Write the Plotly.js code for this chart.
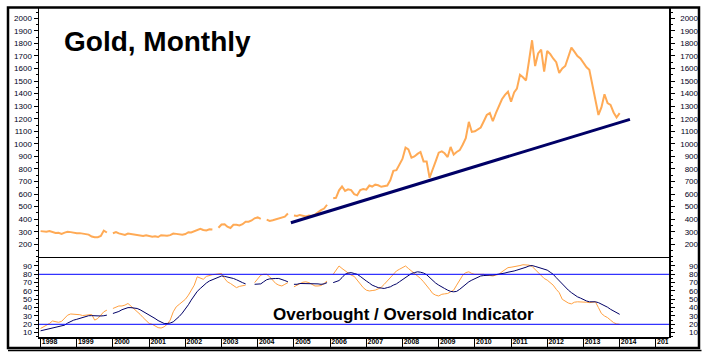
<!DOCTYPE html>
<html><head><meta charset="utf-8">
<script src="https://cdn.plot.ly/plotly-3.0.1.min.js"></script>
<style>html,body{margin:0;padding:0;background:#fff;}#chart{width:711px;height:358px;}</style>
</head><body><div id="chart"></div>
<script>
// Monthly gold price (USD/oz), Jan 1998 .. Jan 2014 (null = gap in the drawn line)
const goldPrice = [
  305, 303, 300, 306, 298, 290, 291, 283, 293, 300, 297, 292,      // 1998
  288, 289, 286, 283, 277, 262, 256, 257, 266, 309, 294, null,     // 1999
  288, 298, 287, 280, 274, 286, 283, 275, 274, 271, 267, 272,      // 2000
  266, 261, 264, 258, 272, 271, 268, 273, 286, 283, 277, 276,      // 2001
  282, 296, 294, 302, 314, 324, 314, 310, 319, 317, null, 332,     // 2002
  358, 359, 340, 330, 355, 356, 350, 360, 380, 380, 390, 407,      // 2003
  414, 402, null, 396, 386, 392, 398, 402, 408, 420, 445, null,    // 2004
  430, 426, 434, 429, 422, 430, 426, 437, 458, 472, 485, 515,      // 2005
  null, 566, 570, 630, 660, 625, 638, 632, 600, 590, 632, 640,     // 2006
  635, 668, 660, 675, 670, 658, 665, 668, 712, 785, 790, 830,      // 2007
  880, 970, 955, 890, 900, 920, 935, 860, 860, 730, 805, 860,      // 2008
  930, 940, 925, 895, 975, 915, 935, 950, 995, 1045, 1175, 1095,   // 2009
  1100, 1115, 1130, 1180, 1230, 1245, 1180, 1245, 1305, 1355, 1390, 1415, // 2010
  1335, 1410, 1440, 1550, 1530, 1505, 1660, 1825, 1620, 1720, 1750, 1575, // 2011
  1740, 1715, 1680, 1650, 1565, 1600, 1620, 1700, 1766, 1735, 1700, 1680, // 2012
  1640, 1610, 1590, 1475, 1360, 1230, 1290, 1395, 1325, 1310, 1250, 1210, // 2013
  1245                                                               // 2014
];
// Overbought / oversold indicator, fast (orange) line
const oscFast = [
  15, 17, 19.5, 21, 24, 23.5, 22.4, 23.5, 27, 31, 32.4, 32.4,
  32.4, 31.5, 30.5, 30.7, 31, 31.8, 25, 27, 31, 35, 37, null,
  39, 40.5, 42, 42, 43, 45, 42, 39, 35, 32, 28, 24,
  21, 20, 18.5, 16, 15.5, 17, 20, 25, 35, 41, 44, 46.5,
  50, 55, 61, 67, 77, 75, 74, 77.5, 79, 79.5, 80, 80.5,
  81, 75, 71, 69, 66, 64, 65.5, 66.5, 67, null, null, 70,
  74, 79, 80, 80, 77, 73, 69, 67, 66, 68, 70, null,
  65, 67, 69, 70.5, 71, 70, 68, 66, 66, 66.5, 69, 72,
  null, 80, 85, 90, 87, 84, 81, 79, 77.5, 73, 68, 64,
  61, 60, 60.5, 61, 62.5, 64.5, 68, 72, 76, 81, 84, 86,
  88, 90, 87, 84, 82, 79, 75, 71, 67, 62, 57, 55,
  54, 56, 56.5, 57, 59, 61, 67, 73, 79, 82, 83, 81,
  80, 80, 80, 80, 79, 78.5, 78, 79, 80, 83, 86, 88,
  88.5, 89, 90, 90.5, 91.5, 91.5, 91, 89.5, 86, 83, 79, 75,
  73, 70, 67, 62, 58, 50, 47.5, 45.5, 44.5, 46.5, 47, 47,
  47, 46.5, 46, 46.5, 47, 40, 33, 30, 28, 25, 22, 20.5,
  20
];
// Overbought / oversold indicator, slow (navy) line
const oscSlow = [
  12.2, 13, 13.8, 14.6, 15.5, 16.4, 17, 17.8, 19, 21.5, 23.5, 25,
  26, 27.2, 28.3, 29.3, 30.3, 30.4, 30.1, 30, 30, 30.3, 31, null,
  33, 34, 35.4, 37.5, 39, 40, 40, 39.5, 39, 37.5, 35.5, 33,
  31.5, 29, 27, 24.5, 22.5, 21, 21, 21.5, 23, 26, 29.5, 33.5,
  38, 43.5, 49, 55, 59.5, 63, 66.5, 69.5, 72, 73.5, 75, 76.5,
  78, 77.5, 77, 76, 75, 73.5, 71.5, 70, 68.5, null, null, 68,
  68, 68.5, 71, 73.5, 74.5, 75, 75, 75, 74, 72.5, 71, null,
  68, 68, 69, 69, 69, 69, 69, 69, 68.5, 68, 68.5, 70,
  null, 70, 71, 72.5, 76, 80, 81.5, 82, 81, 80, 77.5, 74.5,
  72, 69.5, 67, 65.5, 64, 63.5, 63, 64, 65, 67, 68.5, 71,
  73.5, 76, 79, 81, 82, 83, 82.5, 81.5, 79.5, 76, 72, 69.5,
  67, 64.5, 63, 61, 59.5, 59, 59.5, 62, 65, 68.5, 71, 73,
  75, 76.5, 78, 78.5, 79, 79, 79, 79.5, 80, 80.5, 81.5, 82.5,
  83, 84, 85, 86, 87, 88.5, 90, 90.5, 89.5, 88.5, 87, 86,
  85, 82.5, 80, 76, 72, 68.5, 64.5, 61, 58, 55, 53, 51.5,
  49.5, 48, 47, 47, 47, 46, 44.5, 43, 40.5, 38, 36, 34.5,
  32
];
// Support trend line (start / end)
const trendDates = ['2004-12-01', '2014-04-15'];
const trendValues = [372, 1195];
// Indicator reference levels
const overboughtLevel = 80;
const oversoldLevel = 20;
// Tick labels
const yearLabels = ['1998','1999','2000','2001','2002','2003','2004','2005','2006','2007','2008','2009','2010','2011','2012','2013','2014','2015'];
const priceTicks = [200,300,400,500,600,700,800,900,1000,1100,1200,1300,1400,1500,1600,1700,1800,1900,2000];
const oscTicks = [10,20,30,40,50,60,70,80,90];

const startYear = 1998;
const months = goldPrice.map((_, i) => {
  const y = startYear + Math.floor(i / 12), m = (i % 12) + 1;
  return y + '-' + String(m).padStart(2, '0') + '-01';
});
const yearTickDates = yearLabels.map(y => y + '-01-01');

const W = 711, H = 358, ML = 39, MR = 12, MT = 8, MB = 21;
const PW = W - ML - MR, PH = H - MT - MB;
const px = v => (v - ML) / PW;           // page px -> paper x
const py = v => (H - MB - v) / PH;       // page px -> paper y
const D = px(669);
const S = py(258.3);

const tickFont = {family: 'Liberation Sans, Arial, sans-serif', size: 8, color: '#000022'};
const axBase = {showgrid: false, zeroline: false, fixedrange: true};

const traces = [
  {x: months, y: goldPrice, type: 'scatter', mode: 'lines', xaxis: 'x', yaxis: 'y',
   line: {color: '#FFAA55', width: 2}, connectgaps: false, hoverinfo: 'skip'},
  {x: trendDates, y: trendValues, type: 'scatter', mode: 'lines', xaxis: 'x', yaxis: 'y',
   line: {color: '#000066', width: 3}, hoverinfo: 'skip'},
  {x: months, y: oscFast, type: 'scatter', mode: 'lines', xaxis: 'x', yaxis: 'y2',
   line: {color: '#FFA040', width: 1}, connectgaps: false, hoverinfo: 'skip'},
  {x: months, y: oscSlow, type: 'scatter', mode: 'lines', xaxis: 'x', yaxis: 'y2',
   line: {color: '#000066', width: 1}, connectgaps: false, hoverinfo: 'skip'},
  {x: [], y: [], type: 'scatter', xaxis: 'x', yaxis: 'y3', hoverinfo: 'skip'},
  {x: [], y: [], type: 'scatter', xaxis: 'x', yaxis: 'y4', hoverinfo: 'skip'}
];

const priceRange = [88.5, 2082];
const oscRange = [4.76, 99.2];

const layout = {
  width: W, height: H,
  margin: {l: ML, r: MR, t: MT, b: MB, pad: 0},
  paper_bgcolor: '#ffffff', plot_bgcolor: '#ffffff',
  showlegend: false,
  xaxis: Object.assign({}, axBase, {
    type: 'date', domain: [0, D], anchor: 'y2',
    range: ['1997-12-16', '2015-05-14'],
    tickmode: 'array', tickvals: yearTickDates, ticktext: yearLabels,
    ticks: 'outside', ticklen: 10, tickwidth: 1, tickcolor: '#000',
    showline: true, linecolor: '#000', linewidth: 1.5, mirror: true,
    tickfont: {family: 'Liberation Sans, Arial, sans-serif', size: 7, color: '#000000', weight: 'bold'},
    ticklabelstandoff: -13, ticklabelshift: 9
  }),
  yaxis: Object.assign({}, axBase, {
    domain: [S, 1], anchor: 'x', range: priceRange,
    tickmode: 'array', tickvals: priceTicks,
    ticks: 'outside', ticklen: 4, tickwidth: 1, tickcolor: '#000',
    showline: true, linecolor: '#000', linewidth: 1.5, mirror: 'ticks',
    minor: {tickmode: 'linear', tick0: 0, dtick: 50, ticks: 'outside', ticklen: 2, tickcolor: '#000', tickwidth: 1},
    tickfont: tickFont
  }),
  yaxis2: Object.assign({}, axBase, {
    domain: [0, S], anchor: 'x', range: oscRange,
    tickmode: 'array', tickvals: oscTicks,
    ticks: 'outside', ticklen: 4, tickwidth: 1, tickcolor: '#000',
    showline: true, linecolor: '#000', linewidth: 1.5, mirror: 'ticks',
    minor: {tickmode: 'linear', tick0: 0, dtick: 5, ticks: 'outside', ticklen: 2, tickcolor: '#000', tickwidth: 1},
    tickfont: tickFont
  }),
  yaxis3: Object.assign({}, axBase, {
    overlaying: 'y', anchor: 'free', position: 1, side: 'left', range: priceRange,
    tickmode: 'array', tickvals: priceTicks, ticks: '', showline: false,
    tickfont: tickFont, ticklabelstandoff: 1
  }),
  yaxis4: Object.assign({}, axBase, {
    overlaying: 'y2', anchor: 'free', position: 1, side: 'left', range: oscRange,
    tickmode: 'array', tickvals: oscTicks, ticks: '', showline: false,
    tickfont: tickFont, ticklabelstandoff: 1
  }),
  shapes: [
    {type: 'line', xref: 'x domain', yref: 'y2', x0: 0, x1: 1, y0: overboughtLevel, y1: overboughtLevel,
     line: {color: '#0000FF', width: 1}},
    {type: 'line', xref: 'x domain', yref: 'y2', x0: 0, x1: 1, y0: oversoldLevel, y1: oversoldLevel,
     line: {color: '#0000FF', width: 1}},
    {type: 'rect', xref: 'paper', yref: 'paper', layer: 'above',
     x0: px(668.5), x1: px(696), y0: py(347), y1: py(338),
     fillcolor: '#ffffff', line: {width: 0}},
    {type: 'rect', xref: 'paper', yref: 'paper', layer: 'above',
     x0: px(8), x1: px(699), y0: py(348), y1: py(7.5),
     fillcolor: 'rgba(0,0,0,0)', line: {color: '#000', width: 2.5}},
    {type: 'line', xref: 'paper', yref: 'paper', layer: 'above',
     x0: px(8), x1: px(701.5), y0: py(350.5), y1: py(350.5),
     line: {color: '#000', width: 1.5}}
  ],
  annotations: [
    {text: 'Gold, Monthly', xref: 'paper', yref: 'paper', x: px(61.5), y: py(41.7),
     xanchor: 'left', yanchor: 'middle', showarrow: false,
     font: {family: 'Liberation Sans, Arial, sans-serif', size: 28, color: '#000', weight: 'bold'}},
    {text: 'Overbought / Oversold Indicator', xref: 'paper', yref: 'paper', x: px(403.7), y: py(314),
     xanchor: 'center', yanchor: 'middle', showarrow: false,
     font: {family: 'Liberation Sans, Arial, sans-serif', size: 17, color: '#000', weight: 'bold'}}
  ]
};

Plotly.newPlot('chart', traces, layout, {staticPlot: true, displayModeBar: false});
</script>
</body></html>
